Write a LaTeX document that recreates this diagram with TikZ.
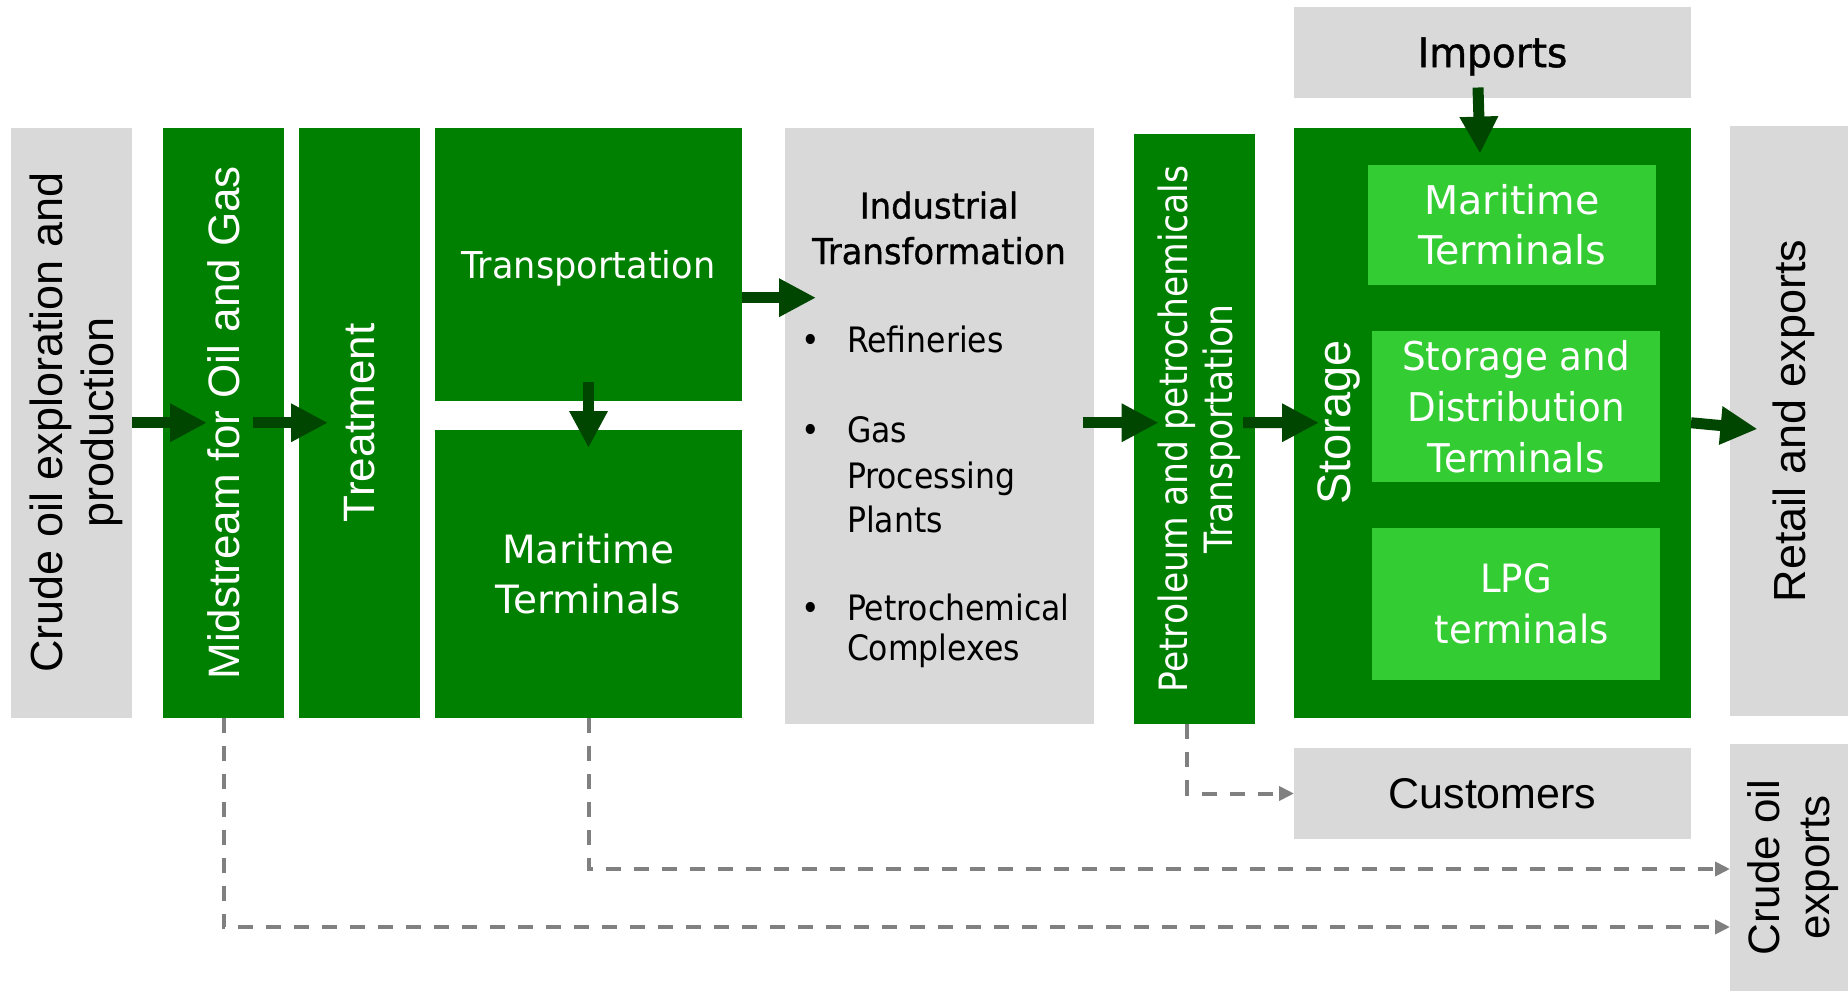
\documentclass[tikz,border=0pt]{standalone}
\usepackage{fontspec}
\setmainfont{Liberation Sans}
\newfontfamily\dvA{DejaVu Sans}
\newfontfamily\dvB[FakeStretch=0.94]{DejaVu Sans}
\newfontfamily\dvC[FakeStretch=0.90]{DejaVu Sans}
\newfontfamily\dvP[FakeStretch=0.886]{DejaVu Sans}
\newfontfamily\dvH[FakeStretch=0.95,FakeBold=1]{DejaVu Sans}
\newfontfamily\dvT[FakeStretch=0.95]{DejaVu Sans}
\usetikzlibrary{arrows.meta,calc}
\definecolor{boxgray}{HTML}{D9D9D9}
\definecolor{dgreen}{HTML}{008000}
\definecolor{lgreen}{HTML}{33CC33}
\definecolor{arrgreen}{HTML}{004600}
\definecolor{dashgray}{HTML}{808080}
\newcommand\fs[2]{\fontsize{#1}{#2}\selectfont}
\begin{document}
\begin{tikzpicture}[x=0.5pt,y=-0.5pt,
  box/.style={draw=none, inner sep=0pt, outer sep=0pt},
  sz/.style 2 args={minimum width=#1*0.5pt, minimum height=#2*0.5pt},
  graybox/.style={box, fill=boxgray, text=black},
  greenbox/.style={box, fill=dgreen, text=white},
  lightbox/.style={box, fill=lgreen, text=white},
  txt/.style={inner sep=0pt, outer sep=0pt},
  bigarrow/.style={draw=arrgreen, line width=5.5pt, -{Triangle[length=18.5pt,width=18pt]}},
  flow/.style={draw=dashgray, line width=2pt, dash pattern=on 7.5pt off 6.5pt, -{Triangle[length=7.5pt,width=7pt]}},
]
\useasboundingbox (0,0) rectangle (1848,991);
\fill[white] (0,0) rectangle (1848,991);

% ---- boxes ----
\node[graybox, sz={121}{589.5}] (crude) at (71.5,422.75) {};
\node[greenbox, sz={121}{589.5}] (mid) at (223.5,422.75) {};
\node[greenbox, sz={121}{589.5}] (treat) at (359.5,422.75) {};
\node[greenbox, sz={307}{272.7}, font=\dvT\fs{18.5}{22}, text depth=0pt] (transp) at (588.5,264.3) {Transportation};
\node[greenbox, sz={307}{288}, align=center, font=\dvA\fs{19.5}{25.3}] (mar) at (588.5,574) {Maritime\\Terminals};
\node[graybox, sz={308.6}{595.5}] (indu) at (939.3,425.75) {};
\node[greenbox, sz={121}{590}] (petro) at (1194.5,429) {};
\node[graybox, sz={397}{90.5}, font=\dvH\fs{20.5}{24}, text depth=0pt] (imports) at (1492.5,52.25) {Imports};
\node[box, fill=dgreen, sz={397}{589.5}] (storage) at (1492.5,422.75) {};
\node[lightbox, sz={288}{120}, align=center, font=\dvA\fs{19.8}{25}] (smar) at (1512,225) {Maritime\\Terminals};
\node[lightbox, sz={288}{151}, align=center, font=\dvB\fs{19.8}{25.5}] (sdist) at (1516,406.5) {Storage and\\Distribution\\Terminals};
\node[lightbox, sz={288}{152}, align=center, font=\dvT\fs{19.5}{25.5}] (lpg) at (1516,604) {LPG\\\hspace*{6pt}terminals};
\node[graybox, sz={118}{590}] (retail) at (1789,421) {};
\node[graybox, sz={397}{91}, font=\fs{21.5}{25}, text depth=0pt] (cust) at (1492.5,793.5) {Customers};
\node[graybox, sz={118}{247}] (cexp) at (1789,867.5) {};

% ---- rotated labels ----
\node[txt, rotate=90, align=center, font=\fs{22.5}{25.6}] (crudeT) at ($(crude)+(4.7,0)$) {Crude oil exploration and\\production};
\node[txt, rotate=90, text=white, font=\fs{22}{26}] (midT) at (mid) {Midstream for Oil and Gas};
\node[txt, rotate=90, text=white, font=\fs{22}{26}] (treatT) at (treat) {Treatment};
\node[txt, rotate=90, align=center, text=white, font=\dvP\fs{19.5}{22.4}] (petroT) at ($(petro)+(4.6,0)$) {Petroleum and petrochemicals\\Transportation};
\node[txt, rotate=90, text=white, font=\fs{23.5}{28}] (storT) at (1339,422.5) {Storage};
\node[txt, rotate=90, text depth=0pt, font=\fs{22.5}{26}] (retailT) at (retail) {Retail and exports};
\node[txt, rotate=90, align=center, font=\fs{22}{25}] (cexpT) at ($(cexp)+(4.6,0)$) {Crude oil\\exports};

% ---- industrial transformation contents ----
\node[txt, anchor=base, font=\dvH\fs{17.8}{22}] (indT1) at (939,218.5) {Industrial};
\node[txt, anchor=base, font=\dvH\fs{17.8}{22}] (indT2) at (939,264) {Transformation};
\begin{scope}[every node/.append style={txt, font=\dvC\fs{17.5}{21}}]
\node[anchor=base] (b1) at (811,352) {•};
\node[anchor=base west] (l1) at (847,352) {Refineries};
\node[anchor=base] (b2) at (811,442) {•};
\node[anchor=base west] (l2) at (847,442) {Gas};
\node[anchor=base west] (l3) at (847,488) {Processing};
\node[anchor=base west] (l4) at (847,532) {Plants};
\node[anchor=base] (b3) at (811,620) {•};
\node[anchor=base west] (l5) at (847,620) {Petrochemical};
\node[anchor=base west] (l6) at (847,660) {Complexes};
\end{scope}

% ---- solid flow arrows ----
\draw[bigarrow] (crude.east) -- ($(mid.west)+(44,0)$);
\draw[bigarrow] ($(mid.east)+(-31,0)$) -- ($(treat.west)+(29,0)$);
\draw[bigarrow] ($(transp.east)+(0,33.4)$) -- ($(indu.west |- transp.east)+(31,33.4)$);
\draw[bigarrow] ($(transp.south)+(0,-18.7)$) -- ($(mar.north)+(0,18)$);
\draw[bigarrow] ($(indu.east)+(-11,-3)$) -- ($(petro.west |- indu.east)+(24.6,-3)$);
\draw[bigarrow] ($(petro.east)+(-12,-6.3)$) -- ($(storage.west)+(25,0)$);
\draw[bigarrow] ($(imports.south)+(-14.5,-10)$) -- ($(storage.north)+(-12.5,25.6)$);
\draw[bigarrow] (storage.east) -- ($(retail.west)+(27.5,8)$);

% ---- dashed flows ----
\draw[flow] (mid.south) |- ($(cexp.west)+(0,59.5)$);
\draw[flow] (mar.south) |- ($(cexp.west)+(0,1.5)$);
\draw[flow] ($(petro.south)+(-7.5,0)$) |- (cust.west);
\end{tikzpicture}
\end{document}
